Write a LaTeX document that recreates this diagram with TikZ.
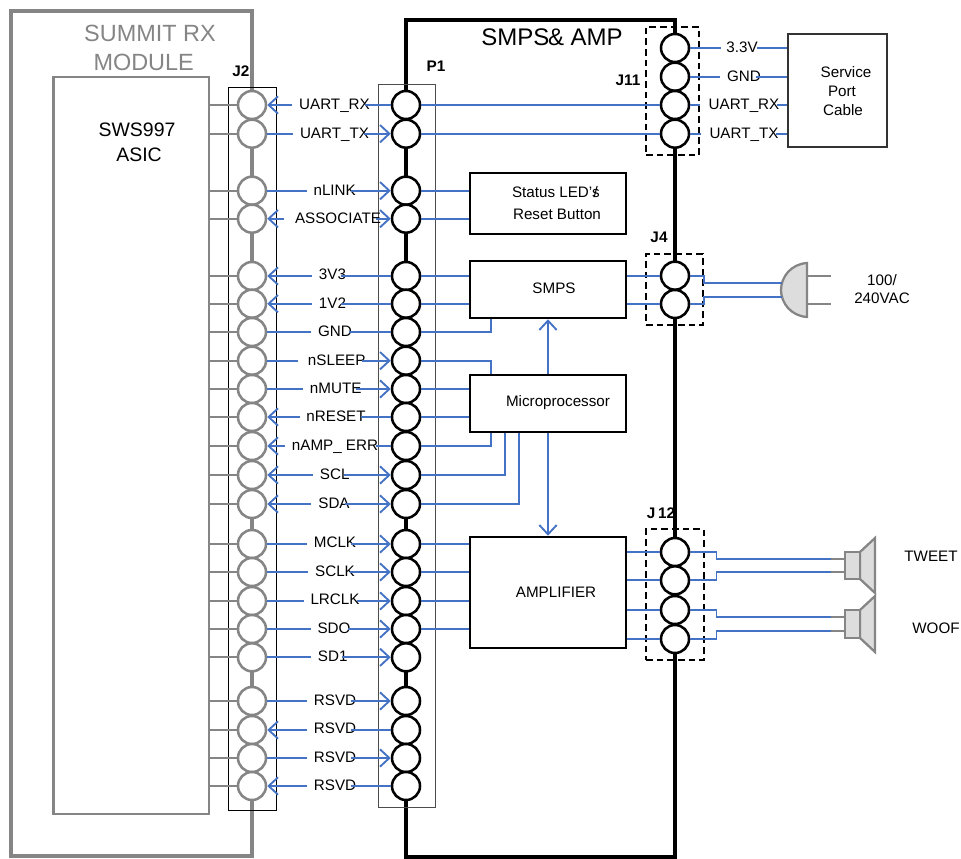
\documentclass[tikz,border=0pt]{standalone}
\usepackage{fontspec}
\setmainfont{Liberation Sans}
\usetikzlibrary{arrows.meta,fit}
\definecolor{sigblue}{HTML}{4472C4}
\definecolor{modgray}{HTML}{858585}
\definecolor{partgray}{HTML}{DDDDDD}
\tikzset{
  >={Straight Barb[length=7pt,width=13pt]},
  txt/.style={inner sep=0pt,font=\fontsize{11.4}{13}\selectfont},
  lab/.style={txt,text height=8pt,text depth=0pt},
  hdr/.style={inner sep=0pt,font=\bfseries\fontsize{11.5}{13}\selectfont},
  pinj/.style={circle,draw=modgray,fill=white,line width=1.9pt,minimum size=21pt,inner sep=0pt},
  pinp/.style={circle,draw=black,fill=white,line width=1.9pt,minimum size=21pt,inner sep=0pt},
  box/.style={draw=black,line width=1.9pt,inner sep=0pt},
  thinbox/.style={draw=black,line width=0.6pt,inner sep=0pt},
  dashbox/.style={draw=black,line width=1.5pt,dash pattern=on 5pt off 3pt,inner sep=0pt},
  sig/.style={draw=sigblue,line width=1.4pt},
  stub/.style={draw=modgray,line width=1.4pt},
  part/.style={draw=modgray,fill=partgray,line width=1.7pt}
}
\begin{document}
\begin{tikzpicture}[x=0.75pt,y=-0.75pt]
\useasboundingbox (0,0) rectangle (961,859);

% modules
\draw [modgray,line width=3.4pt] (252,856) -- (11,856) -- (11,11) -- (252,11) -- cycle;
\draw [black,line width=3.4pt] (406,857) -- (406,20) -- (675,20) -- (675,857) -- cycle;
\node [draw=modgray,line width=1.6pt,inner sep=0pt,fit={(53.5,77) (209,814)}] (asic) {};
\node [thinbox,fit={(228,87) (276,810)}] (j2box) {};
\node [thinbox,draw=black!70,fit={(378,84) (435,807)}] (p1box) {};
\node [dashbox,fit={(646,27) (699,155)}] (j11box) {};
\node [dashbox,fit={(646,254) (703,325)}] (j4box) {};
\node [dashbox,fit={(646,529) (703.5,660)}] (j12box) {};

% J2 pins
\node [pinj] (j1) at (252,105) {};
\node [pinj] (j2) at (252,133.7) {};
\node [pinj] (j3) at (252,190.7) {};
\node [pinj] (j4) at (252,218.7) {};
\node [pinj] (j5) at (252,276) {};
\node [pinj] (j6) at (252,303.7) {};
\node [pinj] (j7) at (252,332) {};
\node [pinj] (j8) at (252,360.7) {};
\node [pinj] (j9) at (252,389) {};
\node [pinj] (j10) at (252,417) {};
\node [pinj] (j11) at (252,446) {};
\node [pinj] (j12) at (252,475) {};
\node [pinj] (j13) at (252,504) {};
\node [pinj] (j14) at (252,544) {};
\node [pinj] (j15) at (252,572) {};
\node [pinj] (j16) at (252,601) {};
\node [pinj] (j17) at (252,629) {};
\node [pinj] (j18) at (252,657.3) {};
\node [pinj] (j19) at (252,701) {};
\node [pinj] (j20) at (252,730) {};
\node [pinj] (j21) at (252,758) {};
\node [pinj] (j22) at (252,786) {};

% P1 pins
\node [pinp] (p1) at (406,105) {};
\node [pinp] (p2) at (406,133.7) {};
\node [pinp] (p3) at (406,190.7) {};
\node [pinp] (p4) at (406,218.7) {};
\node [pinp] (p5) at (406,276) {};
\node [pinp] (p6) at (406,303.7) {};
\node [pinp] (p7) at (406,332) {};
\node [pinp] (p8) at (406,360.7) {};
\node [pinp] (p9) at (406,389) {};
\node [pinp] (p10) at (406,417) {};
\node [pinp] (p11) at (406,446) {};
\node [pinp] (p12) at (406,475) {};
\node [pinp] (p13) at (406,504) {};
\node [pinp] (p14) at (406,544) {};
\node [pinp] (p15) at (406,572) {};
\node [pinp] (p16) at (406,601) {};
\node [pinp] (p17) at (406,629) {};
\node [pinp] (p18) at (406,657.3) {};
\node [pinp] (p19) at (406,701) {};
\node [pinp] (p20) at (406,730) {};
\node [pinp] (p21) at (406,758) {};
\node [pinp] (p22) at (406,786) {};

% right side pins
\node [pinp] (r1) at (675,48) {};
\node [pinp] (r2) at (675,76.7) {};
\node [pinp] (r3) at (675,105) {};
\node [pinp] (r4) at (675,133.7) {};
\node [pinp] (r5) at (675,275.7) {};
\node [pinp] (r6) at (675,304) {};
\node [pinp] (r7) at (675,552) {};
\node [pinp] (r8) at (675,580.3) {};
\node [pinp] (r9) at (675,610) {};
\node [pinp] (r10) at (675,639) {};

% blocks
\node [box,fit={(470,173) (626,234)}] (status) {};
\node [box,fit={(470,261) (626,318)}] (smps) {};
\node [box,fit={(470,375) (626,432)}] (micro) {};
\node [box,fit={(470,537) (626,648)}] (amp) {};
\node [draw=black!80,line width=1.1pt,inner sep=0pt,fit={(788,34) (887,147)}] (cable) {};

% signal names
\node [lab] (l1) at (334.5,104) {UART\_RX};
\node [lab] (l2) at (334.5,132.7) {UART\_TX};
\node [lab] (l3) at (334.7,189.7) {nLINK};
\node [lab] (l4) at (338,217.7) {ASSOCIATE};
\node [lab] (l5) at (332.5,274.5) {3V3};
\node [lab] (l6) at (332.5,302.7) {1V2};
\node [lab] (l7) at (335,331) {GND};
\node [lab] (l8) at (336.7,359.7) {nSLEEP};
\node [lab] (l9) at (335.7,388) {nMUTE};
\node [lab] (l10) at (336,416) {nRESET};
\node [lab] (l11) at (335,445) {nAMP\_ ERR};
\node [lab] (l12) at (334.7,474) {SCL};
\node [lab] (l13) at (334,503) {SDA};
\node [lab] (l14) at (335,542.5) {MCLK};
\node [lab] (l15) at (335,571) {SCLK};
\node [lab] (l16) at (335,599.5) {LRCLK};
\node [lab] (l17) at (334,628) {SDO};
\node [lab] (l18) at (332.7,656.3) {SD1};
\node [lab] (l19) at (335,700) {RSVD};
\node [lab] (l20) at (335,728.5) {RSVD};
\node [lab] (l21) at (335,757) {RSVD};
\node [lab] (l22) at (335,785) {RSVD};

% ASIC to J2
\draw [stub] (asic.east |- j1) -- (j1);
\draw [stub] (asic.east |- j2) -- (j2);
\draw [stub] (asic.east |- j3) -- (j3);
\draw [stub] (asic.east |- j4) -- (j4);
\draw [stub] (asic.east |- j5) -- (j5);
\draw [stub] (asic.east |- j6) -- (j6);
\draw [stub] (asic.east |- j7) -- (j7);
\draw [stub] (asic.east |- j8) -- (j8);
\draw [stub] (asic.east |- j9) -- (j9);
\draw [stub] (asic.east |- j10) -- (j10);
\draw [stub] (asic.east |- j11) -- (j11);
\draw [stub] (asic.east |- j12) -- (j12);
\draw [stub] (asic.east |- j13) -- (j13);
\draw [stub] (asic.east |- j14) -- (j14);
\draw [stub] (asic.east |- j15) -- (j15);
\draw [stub] (asic.east |- j16) -- (j16);
\draw [stub] (asic.east |- j17) -- (j17);
\draw [stub] (asic.east |- j18) -- (j18);
\draw [stub] (asic.east |- j19) -- (j19);
\draw [stub] (asic.east |- j20) -- (j20);
\draw [stub] (asic.east |- j21) -- (j21);
\draw [stub] (asic.east |- j22) -- (j22);

% J2 to label
\draw [sig,<-] (j1) -- ([xshift=-5pt]l1.west |- j1);
\draw [sig] (j2) -- ([xshift=-5pt]l2.west |- j2);
\draw [sig] (j3) -- ([xshift=-5pt]l3.west |- j3);
\draw [sig,<-] (j4) -- ([xshift=-8pt]l4.west |- j4);
\draw [sig,<-] (j5) -- ([xshift=-5pt]l5.west |- j5);
\draw [sig,<-] (j6) -- ([xshift=-5pt]l6.west |- j6);
\draw [sig] (j7) -- ([xshift=-5pt]l7.west |- j7);
\draw [sig] (j8) -- ([xshift=-7pt]l8.west |- j8);
\draw [sig] (j9) -- ([xshift=-5pt]l9.west |- j9);
\draw [sig,<-] (j10) -- ([xshift=-5pt]l10.west |- j10);
\draw [sig,<-] (j11) -- ([xshift=-5pt]l11.west |- j11);
\draw [sig,<-] (j12) -- ([xshift=-5pt]l12.west |- j12);
\draw [sig,<-] (j13) -- ([xshift=-5pt]l13.west |- j13);
\draw [sig] (j14) -- ([xshift=-5pt]l14.west |- j14);
\draw [sig] (j15) -- ([xshift=-5pt]l15.west |- j15);
\draw [sig] (j16) -- ([xshift=-5pt]l16.west |- j16);
\draw [sig] (j17) -- ([xshift=-5pt]l17.west |- j17);
\draw [sig] (j18) -- ([xshift=-5pt]l18.west |- j18);
\draw [sig] (j19) -- ([xshift=-5pt]l19.west |- j19);
\draw [sig,<-] (j20) -- ([xshift=-5pt]l20.west |- j20);
\draw [sig] (j21) -- ([xshift=-5pt]l21.west |- j21);
\draw [sig,<-] (j22) -- ([xshift=-5pt]l22.west |- j22);

% label to P1
\draw [sig] ([xshift=-4pt]l1.east |- p1) -- (p1);
\draw [sig,->] ([xshift=-4pt]l2.east |- p2) -- (p2);
\draw [sig,->] ([xshift=-4pt]l3.east |- p3) -- (p3);
\draw [sig,->] ([xshift=-4pt]l4.east |- p4) -- (p4);
\draw [sig] ([xshift=-4pt]l5.east |- p5) -- (p5);
\draw [sig] ([xshift=-4pt]l6.east |- p6) -- (p6);
\draw [sig] ([xshift=-2pt]l7.east |- p7) -- (p7);
\draw [sig,->] ([xshift=-3pt]l8.east |- p8) -- (p8);
\draw [sig,->] ([xshift=-4pt]l9.east |- p9) -- (p9);
\draw [sig] ([xshift=-4pt]l10.east |- p10) -- (p10);
\draw [sig] ([xshift=-2pt]l11.east |- p11) -- (p11);
\draw [sig,->] ([xshift=-4pt]l12.east |- p12) -- (p12);
\draw [sig,->] ([xshift=-4pt]l13.east |- p13) -- (p13);
\draw [sig,->] ([xshift=-4pt]l14.east |- p14) -- (p14);
\draw [sig,->] ([xshift=-4pt]l15.east |- p15) -- (p15);
\draw [sig,->] ([xshift=-2pt]l16.east |- p16) -- (p16);
\draw [sig,->] ([xshift=-2pt]l17.east |- p17) -- (p17);
\draw [sig,->] ([xshift=-4pt]l18.east |- p18) -- (p18);
\draw [sig,->] ([xshift=-4pt]l19.east |- p19) -- (p19);
\draw [sig] ([xshift=-4pt]l20.east |- p20) -- (p20);
\draw [sig,->] ([xshift=-4pt]l21.east |- p21) -- (p21);
\draw [sig] ([xshift=-4pt]l22.east |- p22) -- (p22);

% P1 to blocks
\draw [sig] (p1) -- (r3);
\draw [sig] (p2) -- (r4);
\draw [sig] (p3) -- (status.west |- p3);
\draw [sig] (p4) -- (status.west |- p4);
\draw [sig] (p5) -- (smps.west |- p5);
\draw [sig] (p6) -- (smps.west |- p6);
\draw [sig] (p7) -- ([xshift=-43pt]smps.south |- p7) -- ([xshift=-43pt]smps.south);
\draw [sig] (p8) -- ([xshift=-42.5pt]micro.north |- p8) -- ([xshift=-42.5pt]micro.north);
\draw [sig] (p9) -- (micro.west |- p9);
\draw [sig] (p10) -- (micro.west |- p10);
\draw [sig] (p11) -- ([xshift=-42.5pt]micro.south |- p11) -- ([xshift=-42.5pt]micro.south);
\draw [sig] (p12) -- ([xshift=-32.3pt]micro.south |- p12) -- ([xshift=-32.3pt]micro.south);
\draw [sig] (p13) -- ([xshift=-21.8pt]micro.south |- p13) -- ([xshift=-21.8pt]micro.south);
\draw [sig] (p14) -- (amp.west |- p14);
\draw [sig] (p15) -- (amp.west |- p15);
\draw [sig] (p16) -- (amp.west |- p16);
\draw [sig] (p17) -- (amp.west |- p17);
\draw [sig,->] (micro.north) -- (smps.south);
\draw [sig,->] (micro.south) -- (amp.north);

% J4 and J12
\draw [sig] (smps.east |- r5) -- (r5);
\draw [sig] (smps.east |- r6) -- (r6);
\draw [sig] (amp.east |- r7) -- (r7);
\draw [sig] (amp.east |- r8) -- (r8);
\draw [sig] (amp.east |- r9) -- (r9);
\draw [sig] (amp.east |- r10) -- (r10);

% service port
\node [lab] (v33) at (742,47) {3.3V};
\node [lab] (vgnd) at (744,75.7) {GND};
\node [lab] (crx) at (744,104) {UART\_RX};
\node [lab] (ctx) at (744,132.7) {UART\_TX};
\draw [sig] (r1) -- ([xshift=-4pt]v33.west |- r1);
\draw [sig] (r2) -- ([xshift=-5pt]vgnd.west |- r2);
\draw [sig] (r3) -- ([xshift=-6pt]crx.west |- r3);
\draw [sig] (r4) -- ([xshift=-6pt]ctx.west |- r4);
\draw [sig] ([xshift=-1pt]v33.east |- r1) -- (cable.west |- r1);
\draw [sig] ([xshift=-4pt]vgnd.east |- r2) -- (cable.west |- r2);
\draw [sig] ([xshift=-2pt]crx.east |- r3) -- (cable.west |- r3);
\draw [sig] ([xshift=-2pt]ctx.east |- r4) -- (cable.west |- r4);

% plug
\draw [part] (807,263) .. controls (791,264) and (781,277) .. (781,290) .. controls (781,303) and (791,316) .. (807,317) -- cycle;
\coordinate (plug1) at (781.5,283);
\coordinate (plug2) at (781.5,297);
\coordinate (pin1) at (831,275.7);
\coordinate (pin2) at (831,304);
\draw [sig] (r5) -- (j4box.east |- r5) -- (j4box.east |- plug1) -- (plug1);
\draw [sig] (r6) -- (j4box.east |- r6) -- (j4box.east |- plug2) -- (plug2);
\draw [stub] (807,275.7) -- (pin1);
\draw [stub] (807,304) -- (pin2);

% speakers
\draw [part] (860,552) -- (875,538) -- (875,593) -- (860,579) -- cycle;
\draw [part] (860,610) -- (875,596) -- (875,652) -- (860,638) -- cycle;
\node [part,inner sep=0pt,fit={(845,552) (860,579)}] (tweet) {};
\node [part,inner sep=0pt,fit={(845,610) (860,638)}] (woof) {};
\coordinate (t1) at (831,558.7);
\coordinate (t2) at (831,572);
\coordinate (w1) at (831,617);
\coordinate (w2) at (831,631);
\coordinate (jog) at (716.5,600);
\draw [sig] (r7) -- (jog |- r7) -- (jog |- t1) -- (t1);
\draw [sig] (r8) -- (jog |- r8) -- (jog |- t2) -- (t2);
\draw [sig] (r9) -- (jog |- r9) -- (jog |- w1) -- (w1);
\draw [sig] (r10) -- (jog |- r10) -- (jog |- w2) -- (w2);
\draw [stub] (t1) -- (tweet.west |- t1);
\draw [stub] (t2) -- (tweet.west |- t2);
\draw [stub] (w1) -- (woof.west |- w1);
\draw [stub] (w2) -- (woof.west |- w2);

% texts
\node [inner sep=0pt,modgray,font=\fontsize{17.6}{20}\selectfont] (t_summit) at (150,33) {SUMMIT RX};
\node [inner sep=0pt,modgray,font=\fontsize{17.6}{20}\selectfont] (t_module) at (143.7,62) {MODULE};
\node [inner sep=0pt,font=\fontsize{14.6}{17}\selectfont] (t_sws) at (137,130) {SWS997};
\node [inner sep=0pt,font=\fontsize{14.6}{17}\selectfont] (t_asic) at (139,155) {ASIC};
\node [inner sep=0pt,font=\fontsize{18}{20}\selectfont] (t_title) at (552,37) {SMPS\kern-1pt\& AMP};
\node [hdr] (t_j2) at (241,71) {J2};
\node [hdr] (t_p1) at (436,66) {P1};
\node [hdr] (t_j11) at (628,80) {J11};
\node [hdr] (t_j4) at (659,237) {J4};
\node [hdr] (t_j12) at (661,513) {J\kern2pt12};
\node [txt] (t_led) at (555,192) {Status LED’s\kern-4.5pt/};
\node [txt] (t_reset) at (557,214) {Reset Button};
\node [txt] (t_smps) at (554,288) {SMPS};
\node [txt] (t_micro) at (558,403) {Microprocessor};
\node [txt] (t_amp) at (556,592) {AMPLIFIER};
\node [txt] (t_service) at (846,72) {Service};
\node [txt] (t_port) at (842,91) {Port};
\node [txt] (t_cable) at (843,110) {Cable};
\node [txt] (t_100) at (882,280) {100/};
\node [txt] (t_240) at (882,298) {240VAC};
\node [txt] (t_tweet) at (931,556) {TWEET};
\node [txt] (t_woof) at (936,628) {WOOF};

\end{tikzpicture}
\end{document}
